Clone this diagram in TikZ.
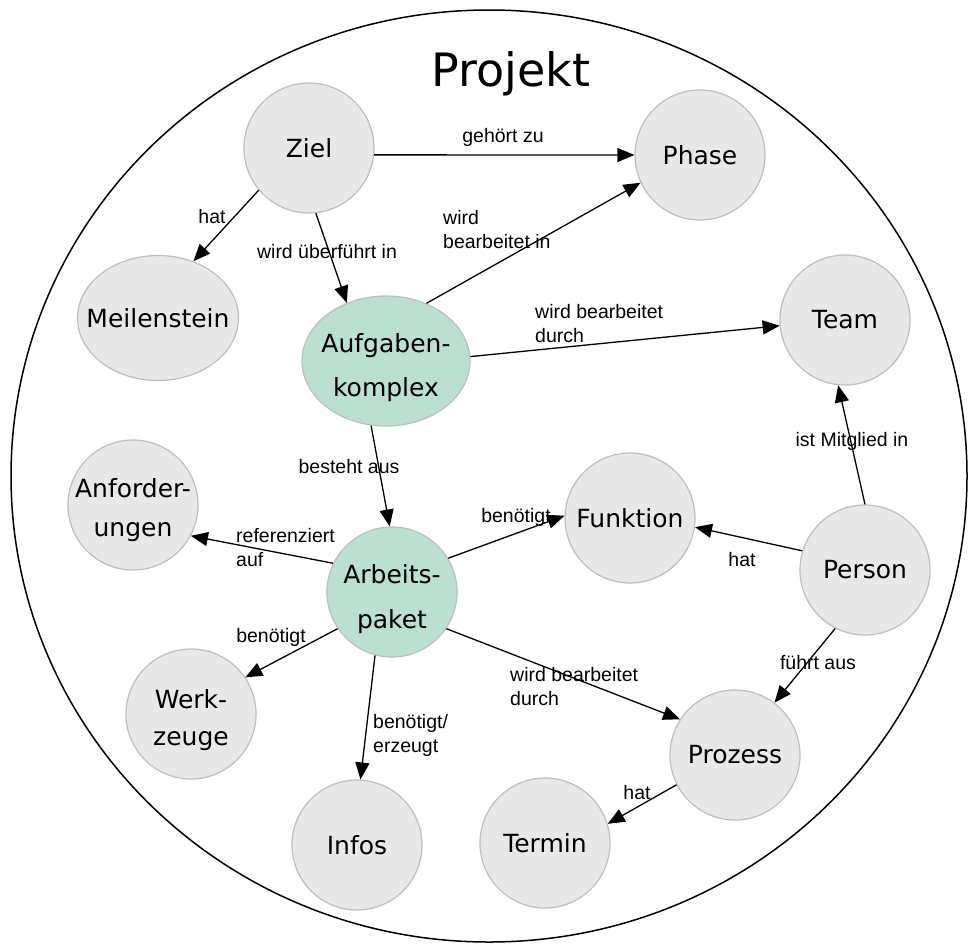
\documentclass[tikz,border=0pt]{standalone}
\usepackage{fontspec}
\setmainfont{DejaVu Sans}
\newfontfamily\lblfont{Liberation Sans}
\usetikzlibrary{shapes.geometric,arrows.meta}
\definecolor{nodegray}{RGB}{232,232,232}
\definecolor{nodeborder}{RGB}{190,190,190}
\definecolor{nodegreen}{RGB}{187,223,209}
\begin{document}
\begin{tikzpicture}[x=1pt,y=-1pt,
 gnode/.style={circle,draw=nodeborder,fill=nodegray,line width=1.2pt,minimum size=130pt,inner sep=0pt},
 gell/.style={ellipse,draw=nodeborder,fill=nodegray,line width=1.2pt,inner sep=0pt},
 greenfill/.style={fill=nodegreen},
 ntext/.style={font=\fontsize{25}{30}\selectfont,align=center,inner sep=0pt},
 lbl/.style={font=\lblfont\fontsize{19.5}{23.5}\selectfont,inner sep=0pt,align=left},
 arr/.style={line width=1.3pt,-{Triangle[length=17pt,width=14pt]}}]
\useasboundingbox (0,0) rectangle (969,943);
\node[draw=black,line width=1.5pt,ellipse,minimum width=956pt,minimum height=932pt,inner sep=0pt] (projekt) at (489,476) {};
\node[font=\fontsize{46}{55}\selectfont,anchor=base,inner sep=0pt] (title) at (511,86) {Projekt};

% nodes
\node[gnode] (ziel) at (309,148) {};
\node[gnode] (phase) at (700,155) {};
\node[gell,minimum width=161pt,minimum height=125pt] (meil) at (158,318) {};
\node[gell,greenfill,minimum width=168pt,minimum height=130pt] (aufg) at (386,361) {};
\node[gnode] (team) at (845,320) {};
\node[gnode] (anf) at (133,505) {};
\node[gnode] (funk) at (630,518) {};
\node[gnode,greenfill] (arb) at (392,592) {};
\node[gnode] (person) at (865,570) {};
\node[gnode] (werk) at (191,714) {};
\node[gnode] (proz) at (735,755) {};
\node[gnode] (infos) at (357,845) {};
\node[gnode] (termin) at (545,843) {};

% node texts
\node[ntext] (ziel-t) at (ziel) {Ziel};
\node[ntext] (phase-t) at (phase) {Phase};
\node[ntext] (meil-t) at (meil) {Meilenstein};
\node[ntext,font=\fontsize{25}{44}\selectfont] (aufg-t) at (386,368) {Aufgaben-\\komplex};
\node[ntext] (team-t) at (team) {Team};
\node[ntext,font=\fontsize{25}{39}\selectfont] (anf-t) at (133,510) {Anforder-\\ungen};
\node[ntext] (funk-t) at (funk) {Funktion};
\node[ntext,font=\fontsize{25}{45}\selectfont] (arb-t) at (392,599) {Arbeits-\\paket};
\node[ntext] (person-t) at (person) {Person};
\node[ntext,font=\fontsize{25}{37}\selectfont] (werk-t) at (191,720) {Werk-\\zeuge};
\node[ntext] (proz-t) at (proz) {Prozess};
\node[ntext] (infos-t) at (infos) {Infos};
\node[ntext] (termin-t) at (termin) {Termin};

% connectors
\draw[arr] (ziel.-6) -- (phase.180);
\draw[arr] (ziel.220) -- (meil.58);
\draw[arr] (ziel.-84) -- (aufg.124);
\draw[arr] (aufg.55) -- (phase.205);
\draw[arr] (aufg.3) -- (team.185);
\draw[arr] (aufg.257) -- (arb.92);
\draw[arr] (person.90) -- (team.264);
\draw[arr] (person.163) -- (funk.-8);
\draw[arr] (arb.31) -- (funk.178);
\draw[arr] (arb.154) -- (anf.-28);
\draw[arr] (arb.214) -- (werk.34);
\draw[arr] (arb.255) -- (infos.87);
\draw[arr] (arb.-34) -- (proz.147);
\draw[arr] (person.243) -- (proz.53);
\draw[arr] (proz.207) -- (termin.17);

% labels
\node[lbl] (l1) at (503,137) {gehört zu};
\node[lbl] (l2) at (212,217) {hat};
\node[lbl] (l3) at (327,252) {wird überführt in};
\node[lbl,anchor=base west] (l4) at (443,248) {wird\\bearbeitet in};
\node[lbl,anchor=base west] (l5) at (535,342) {wird bearbeitet\\durch};
\node[lbl] (l6) at (349,467) {besteht aus};
\node[lbl] (l7) at (852,441) {ist Mitglied in};
\node[lbl] (l8) at (742,560) {hat};
\node[lbl] (l9) at (516,517) {benötigt};
\node[lbl,anchor=base west] (l10) at (236,566) {referenziert\\auf};
\node[lbl] (l11) at (271,637) {benötigt};
\node[lbl,anchor=base west] (l12) at (373,752) {benötigt/\\erzeugt};
\node[lbl,anchor=base west] (l13) at (510,705) {wird bearbeitet\\durch};
\node[lbl] (l14) at (818,663) {führt aus};
\node[lbl] (l15) at (637,793) {hat};
\end{tikzpicture}
\end{document}
